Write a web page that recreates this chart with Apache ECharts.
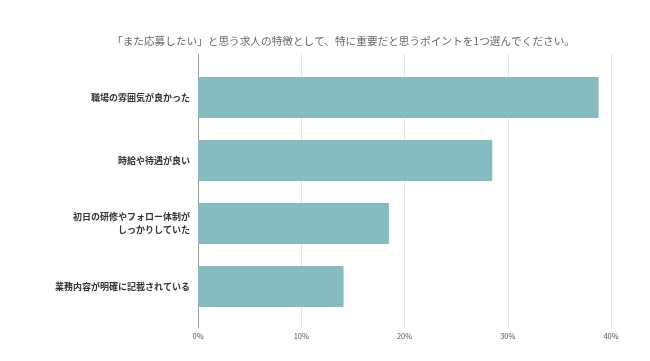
<!DOCTYPE html>
<html><head><meta charset="utf-8">
<script src="https://cdn.jsdelivr.net/npm/echarts@6/dist/echarts.min.js"></script>
<style>html,body{margin:0;padding:0;background:#fff}#c{width:650px;height:361px}</style>
</head><body><div id="c"></div>
<script>
const titleText = '「また応募したい」と思う求人の特徴として、特に重要だと思うポイントを1つ選んでください。';
const categories = ['職場の雰囲気が良かった', '時給や待遇が良い', '初日の研修やフォロー体制が\nしっかりしていた', '業務内容が明確に記載されている'];
const values = [38.8, 28.5, 18.5, 14.1];
const xTicks = [0, 10, 20, 30, 40];

const chart = echarts.init(document.getElementById('c'));
const font = '"Noto Sans CJK JP", "Noto Sans", sans-serif';
chart.setOption({
  animation: false,
  title: {
    text: titleText, left: 338.5, top: 31, textAlign: 'center',
    textStyle: {fontSize: 10.65, fontWeight: 'normal', color: '#666', fontFamily: font}
  },
  grid: [
    {left: 198, right: 39, top: 54, bottom: 33},
    {left: 198, right: 39, top: 66, bottom: 43}
  ],
  xAxis: [
    {gridIndex: 0, type: 'value', min: xTicks[0], max: xTicks[xTicks.length-1], interval: 10,
     axisLine: {show: false}, axisTick: {show: false},
     splitLine: {show: true, lineStyle: {color: '#e4e4e4', width: 1}},
     axisLabel: {formatter: '{value}%', fontSize: 7.5, color: '#555', margin: 4, fontFamily: font}},
    {gridIndex: 1, type: 'value', min: 0, max: 40, show: false}
  ],
  yAxis: [
    {gridIndex: 0, type: 'value', min: 0, max: 1,
     axisLine: {show: true, lineStyle: {color: '#999', width: 1}},
     axisTick: {show: false}, axisLabel: {show: false}, splitLine: {show: false}},
    {gridIndex: 1, type: 'category', data: categories, inverse: true,
     axisLine: {show: false}, axisTick: {show: false}, splitLine: {show: false},
     axisLabel: {fontSize: 9, color: '#333', fontWeight: 'bold', margin: 8, align: 'right', lineHeight: 13, fontFamily: font}}
  ],
  series: [{
    type: 'bar', xAxisIndex: 1, yAxisIndex: 1, data: values, barWidth: 41,
    itemStyle: {color: '#84bcc2', borderRadius: 1}
  }]
});
</script></body></html>
